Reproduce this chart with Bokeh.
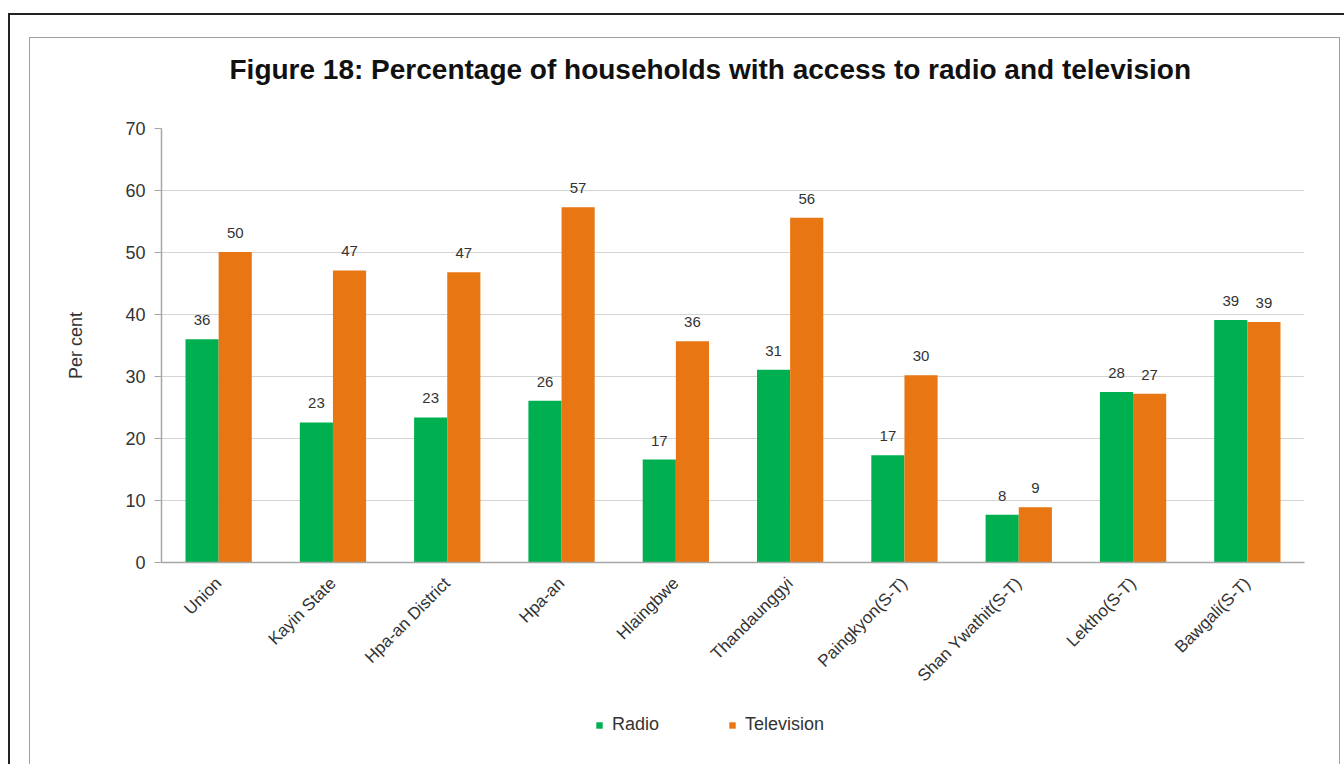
import math
from bokeh.plotting import figure
from bokeh.layouts import column
from bokeh.models import (ColumnDataSource, FactorRange, Range1d, FixedTicker,
                          InlineStyleSheet, Title, Legend, LegendItem)
from bokeh.transform import dodge
from bokeh.core.properties import value
from bokeh.embed import file_html
from bokeh.resources import INLINE

# ---- data ----
categories = ["Union", "Kayin State", "Hpa-an District", "Hpa-an", "Hlaingbwe",
              "Thandaunggyi", "Paingkyon(S-T)", "Shan Ywathit(S-T)",
              "Lektho(S-T)", "Bawgali(S-T)"]
radio = [36.0, 22.6, 23.4, 26.1, 16.6, 31.1, 17.3, 7.7, 27.5, 39.1]
television = [50.1, 47.1, 46.8, 57.3, 35.7, 55.6, 30.2, 8.9, 27.2, 38.8]
y_ticks = [0, 10, 20, 30, 40, 50, 60, 70]
series_names = ["Radio", "Television"]
title_text = "Figure 18: Percentage of households with access to radio and television"
y_label = "Per cent"

FONT = "Liberation Sans"
GREEN = "#00b050"
ORANGE = "#e87612"
TXT = "#333333"

src = ColumnDataSource(dict(
    cat=categories,
    radio=radio,
    tv=television,
    radio_lbl=[f"{v:.0f}" for v in radio],
    tv_lbl=[f"{v:.0f}" for v in television],
))

xr = FactorRange(factors=categories, range_padding=0)
p = figure(width=1344, height=700, output_backend="svg", toolbar_location=None,
           x_range=xr, y_range=Range1d(0, 70), title=None,
           min_border_left=161, min_border_right=40,
           min_border_top=128, min_border_bottom=138)
p.outline_line_color = None
p.background_fill_color = "white"
p.border_fill_color = "white"

bw = 0.29
p.vbar(x=dodge("cat", -0.145, range=xr), top="radio", width=bw,
       bottom=0, source=src, fill_color=GREEN, line_color=None)
p.vbar(x=dodge("cat", 0.145, range=xr), top="tv", width=bw,
       bottom=0, source=src, fill_color=ORANGE, line_color=None)

for col, off in (("radio", -0.145), ("tv", 0.145)):
    p.text(x=dodge("cat", off, range=xr), y=col, text=col + "_lbl",
           source=src, text_font=value(FONT), text_font_size="15px",
           text_color=TXT, text_align="center", text_baseline="alphabetic",
           y_offset=-19)

# title: a blank spacer title sits between the real title and the plot area
p.add_layout(Title(text=" ", text_font=FONT, text_font_size="24px"), "above")
p.add_layout(Title(text=title_text, text_font=FONT, text_font_size="28px",
                   text_font_style="bold", text_color="#111111",
                   align="left", offset=68), "above")

# axes
p.xgrid.grid_line_color = None
p.ygrid.grid_line_color = "#d4d4d4"
p.ygrid.grid_line_width = 1.2
p.yaxis.ticker = FixedTicker(ticks=y_ticks)
for ax in (p.xaxis[0], p.yaxis[0]):
    ax.axis_line_color = "#a6a6a6"
    ax.axis_line_width = 1.5
    ax.major_tick_line_color = "#a6a6a6"
    ax.minor_tick_line_color = None
    ax.major_label_text_font = FONT
    ax.major_label_text_font_size = "18px"
    ax.major_label_text_color = TXT
p.xaxis.major_label_text_font_size = "17px"
p.yaxis.major_tick_in = 0
p.yaxis.major_tick_out = 7
p.yaxis.major_label_standoff = 9
p.yaxis.axis_label = y_label
p.yaxis.axis_label_text_font = FONT
p.yaxis.axis_label_text_font_size = "18px"
p.yaxis.axis_label_text_font_style = "normal"
p.yaxis.axis_label_text_color = TXT
p.yaxis.axis_label_standoff = 36
p.xaxis.major_tick_in = 0
p.xaxis.major_tick_out = 0
p.xaxis.major_label_orientation = math.pi / 4
p.xaxis.major_label_standoff = 18

# legend strip under the chart (its frame is aligned with the chart's frame;
# the swatch renderers use the real series, which lie outside this strip's view)
leg = figure(width=1344, height=64, output_backend="svg", toolbar_location=None,
             x_range=xr, y_range=Range1d(100, 101), title=None,
             x_axis_location=None, y_axis_location=None,
             min_border_left=161, min_border_right=40,
             min_border_top=0, min_border_bottom=0)
leg.outline_line_color = None
leg.xgrid.visible = False
leg.ygrid.visible = False
sw1 = leg.vbar(x=dodge("cat", -0.145, range=xr), top="radio", width=bw,
               bottom=0, source=src, fill_color=GREEN, line_color=None)
sw2 = leg.vbar(x=dodge("cat", 0.145, range=xr), top="tv", width=bw,
               bottom=0, source=src, fill_color=ORANGE, line_color=None)
lg = Legend(items=[LegendItem(label=series_names[0], renderers=[sw1]),
                   LegendItem(label=series_names[1], renderers=[sw2])],
            location=(434, 29), orientation="horizontal",
            border_line_color=None, background_fill_alpha=0,
            padding=0, margin=0, spacing=69,
            glyph_width=8, glyph_height=8, label_standoff=9,
            label_text_font=FONT, label_text_font_size="18px",
            label_text_color=TXT)
leg.add_layout(lg)

page = column(p, leg, spacing=0)
# chart-area borders (document frame look)
page.stylesheets = [InlineStyleSheet(css="""
:host { position: relative; overflow: hidden; }
:host::after { content: ""; position: absolute; left: 8px; top: 13px;
  width: 3000px; height: 3000px; border: 2.5px solid #222;
  box-sizing: border-box; pointer-events: none; z-index: 10; }
:host::before { content: ""; position: absolute; left: 28.5px; top: 36.5px;
  width: 1311px; height: 3000px; border: 1.5px solid #a0a0a0;
  box-sizing: border-box; pointer-events: none; z-index: 10; }
""")]

open("out.html", "w").write(file_html(page, INLINE))
